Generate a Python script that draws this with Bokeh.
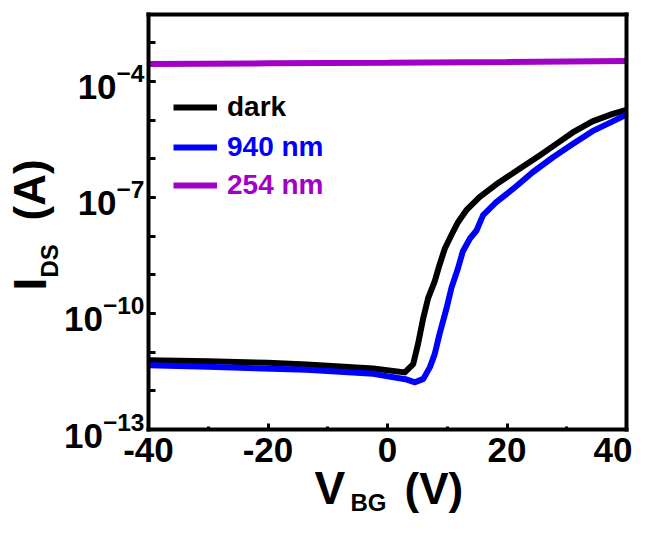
import math
from bokeh.plotting import figure
from bokeh.models import (FixedTicker, LogTickFormatter, Label, Legend, LegendItem, Range1d,
                          LinearAxis, LogAxis)
from bokeh.embed import file_html
from bokeh.resources import INLINE

# ---- data ----
vbg_dark = [-40, -30, -20, -13.5, -2.4, 2.9, 4.3, 5.1, 6.0, 6.8, 7.9, 8.7, 9.6, 10.7, 11.8,
            13.2, 15.4, 18.2, 22.1, 25.4, 28.2, 31.0, 34.3, 37.7, 40]
ids_dark = [6.2e-12, 5.8e-12, 5.3e-12, 4.8e-12, 3.8e-12, 3.0e-12, 4.9e-12, 1.6e-11, 7.8e-11,
            2.5e-10, 6.8e-10, 1.8e-9, 4.8e-9, 1.07e-8, 2.3e-8, 4.7e-8, 1.02e-7, 2.2e-7,
            5.5e-7, 1.2e-6, 2.4e-6, 4.8e-6, 9.3e-6, 1.45e-5, 1.85e-5]

vbg_940 = [-40, -30, -13.5, -2.4, 3.0, 4.6, 6.0, 7.1, 7.9, 8.7, 9.9, 10.7, 11.8, 12.6, 13.8,
           14.9, 16.0, 18.2, 21.0, 24.3, 27.7, 31.0, 34.3, 37.7, 40]
ids_940 = [4.6e-12, 4.2e-12, 3.5e-12, 2.75e-12, 2.0e-12, 1.66e-12, 2.04e-12, 4.1e-12, 8.9e-12,
           2.9e-11, 1.4e-10, 4.6e-10, 1.48e-9, 4.0e-9, 8.7e-9, 1.4e-8, 3.5e-8, 7.6e-8,
           1.66e-7, 4.5e-7, 1.1e-6, 2.4e-6, 5.2e-6, 9.3e-6, 1.4e-5]

vbg_254 = [-40, -20, 0, 20, 40]
ids_254 = [2.85e-4, 2.95e-4, 3.05e-4, 3.2e-4, 3.4e-4]

series_labels = ["dark", "940 nm", "254 nm"]
series_colors = ["#000000", "#0000ff", "#a100c6"]

x_ticks = [-40, -20, 0, 20, 40]
x_minor = [-30, -10, 10, 30]
y_ticks = [1e-13, 1e-10, 1e-7, 1e-4]
y_minor = [1e-13, 1e-12, 1e-11, 1e-10, 1e-9, 1e-8, 1e-7, 1e-6, 1e-5, 1e-4, 1e-3]
y_box_top = 5.4e-3          # upper limit of the plotted I_DS range

FONT = "Liberation Sans"

# ---- layout (pixels) ----
W, H = 632, 518
BOX_L, BOX_R, BOX_T, BOX_B = 148, 626, 14, 429
x_lo, x_hi = x_ticks[0], x_ticks[-1]
y_lo = y_ticks[0]
px_per_x = (BOX_R - BOX_L) / (x_hi - x_lo)
px_per_dec = (BOX_B - BOX_T) / (math.log10(y_box_top) - math.log10(y_lo))
x_range = Range1d(x_lo - BOX_L / px_per_x, x_hi + (W - BOX_R) / px_per_x)
y_range = Range1d(10 ** (math.log10(y_lo) - (H - BOX_B) / px_per_dec),
                  10 ** (math.log10(y_lo) + BOX_B / px_per_dec))

p = figure(width=W, height=H, output_backend="svg", toolbar_location=None,
           y_axis_type="log", x_range=x_range, y_range=y_range,
           x_axis_location=None, y_axis_location=None, min_border=0)
p.grid.visible = False
p.outline_line_color = None
p.background_fill_color = "white"
p.border_fill_color = "white"

r254 = p.line(vbg_254, ids_254, line_color=series_colors[2], line_width=6)
rdark = p.line(vbg_dark, ids_dark, line_color=series_colors[0], line_width=6, line_join="round")
r940 = p.line(vbg_940, ids_940, line_color=series_colors[1], line_width=6, line_join="round")

def style(ax):
    ax.axis_line_width = 4
    ax.axis_line_color = "black"
    ax.axis_line_cap = "square"
    ax.major_tick_line_width = 3
    ax.minor_tick_line_width = 3
    ax.major_tick_out = 0
    ax.minor_tick_out = 0
    ax.major_label_text_font = FONT
    ax.major_label_text_font_style = "bold"
    ax.major_label_text_font_size = "35px"
    ax.major_label_text_color = "black"

xax = LinearAxis(fixed_location=y_lo, bounds=(x_lo, x_hi),
                 ticker=FixedTicker(ticks=x_ticks, minor_ticks=x_minor),
                 major_label_overrides={t: str(t) for t in x_ticks})
style(xax)
xax.major_tick_in = 6
xax.minor_tick_in = 3
xax.major_label_standoff = 8
p.add_layout(xax, "below")

yax = LogAxis(fixed_location=x_lo, bounds=(y_lo, y_box_top),
              ticker=FixedTicker(ticks=y_ticks, minor_ticks=y_minor),
              formatter=LogTickFormatter())
style(yax)
yax.major_tick_in = 7
yax.minor_tick_in = 7
yax.major_label_standoff = 4
p.add_layout(yax, "left")

top = LinearAxis(fixed_location=y_box_top, bounds=(x_lo, x_hi), ticker=FixedTicker(ticks=[]))
style(top)
top.major_tick_in = 0
top.minor_tick_in = 0
p.add_layout(top, "above")

right = LogAxis(fixed_location=x_hi, bounds=(y_lo, y_box_top), ticker=FixedTicker(ticks=[]))
style(right)
right.major_tick_in = 0
right.minor_tick_in = 0
p.add_layout(right, "right")

# legends (one per entry so each label can take its own colour)
legend_bottom_px = [123, 163, 201]
for lab, r, col, ly in zip(series_labels, [rdark, r940, r254], series_colors, legend_bottom_px):
    leg = Legend(items=[LegendItem(label=lab, renderers=[r])], location=(173, H - ly),
                 label_text_color=col, label_text_font=FONT, label_text_font_style="bold",
                 label_text_font_size="28px", glyph_width=44, glyph_height=20,
                 label_standoff=10, padding=0, margin=0, spacing=0,
                 border_line_alpha=0, background_fill_alpha=0)
    p.add_layout(leg)

def lab(text, x, y, size, angle=0):
    # x, y: pixel position (from top-left) of the middle of the text's capital letters
    p.add_layout(Label(x=x, y=H - y, x_units="screen", y_units="screen", text=text,
                       angle=angle, angle_units="deg", text_font=FONT,
                       text_font_style="bold", text_font_size=size,
                       text_baseline="middle", text_align="left", text_color="black"))

# x-axis title V_BG (V)
lab("V", 314, 487, "46px")
lab("BG", 350, 502, "24px")
lab("(V)", 404, 488, "44px")
# y-axis title I_DS (A)
lab("I", 29, 290, "46px", 90)
lab("DS", 49, 277, "24px", 90)
lab("(A)", 29, 220, "44px", 90)

open("out.html", "w").write(file_html(p, INLINE))
